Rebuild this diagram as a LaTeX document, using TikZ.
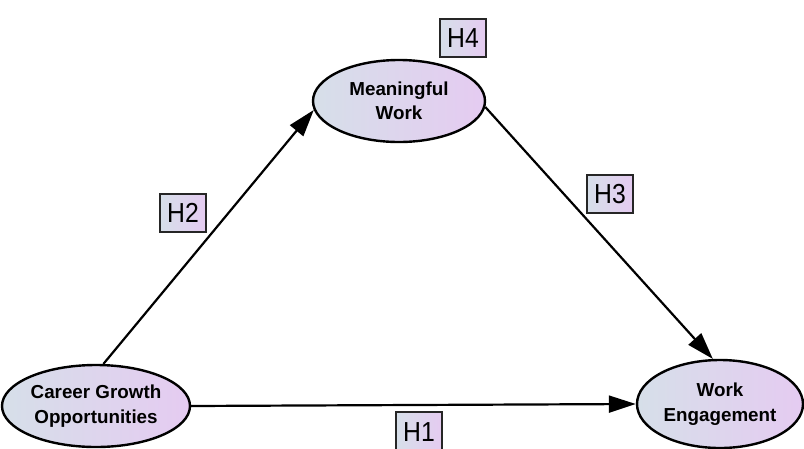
\documentclass[tikz,border=0pt]{standalone}
\usepackage{fontspec}
\setmainfont{Liberation Sans}
\newfontfamily\hfont[FakeStretch=0.9]{Liberation Sans}
\usetikzlibrary{arrows.meta,shapes.geometric}
\definecolor{lc}{RGB}{214,223,233}
\definecolor{rc}{RGB}{229,203,241}
\begin{document}
\begin{tikzpicture}[x=1pt,y=-1pt,
 var/.style={ellipse, draw=black, line width=2.4pt, left color=lc, right color=rc, inner sep=0pt, align=center, font=\fontsize{18.8}{24.5}\selectfont\bfseries},
 hyp/.style={rectangle, draw=black!85, line width=2.2pt, left color=lc, right color=rc, minimum width=46pt, minimum height=38pt, inner sep=0pt, font=\hfont\fontsize{27.5}{30}\selectfont},
 link/.style={line width=2.2pt, -{Triangle[length=27pt,width=17pt]}}]
\useasboundingbox (0,0) rectangle (804,448);
\clip (0,0) rectangle (804,448);
\node[var, minimum width=172pt, minimum height=82pt] (mw) at (399,101) {Meaningful\\Work};
\node[var, minimum width=188pt, minimum height=82pt] (cg) at (96,406) {Career Growth\\Opportunities};
\node[var, minimum width=166pt, minimum height=88pt] (we) at (720,404) {Work\\Engagement};
\draw[link] (cg.80) -- (mw.186);
\draw[link] (mw.-4) -- (we.99);
\draw[link] (cg.east) -- (we.west);
\node[hyp] (h4) at (463,38) {H4};
\node[hyp] (h2) at (183,213) {H2};
\node[hyp] (h3) at (610,194) {H3};
\node[hyp, minimum height=40pt] (h1) at (419,432) {H1};
\end{tikzpicture}
\end{document}
